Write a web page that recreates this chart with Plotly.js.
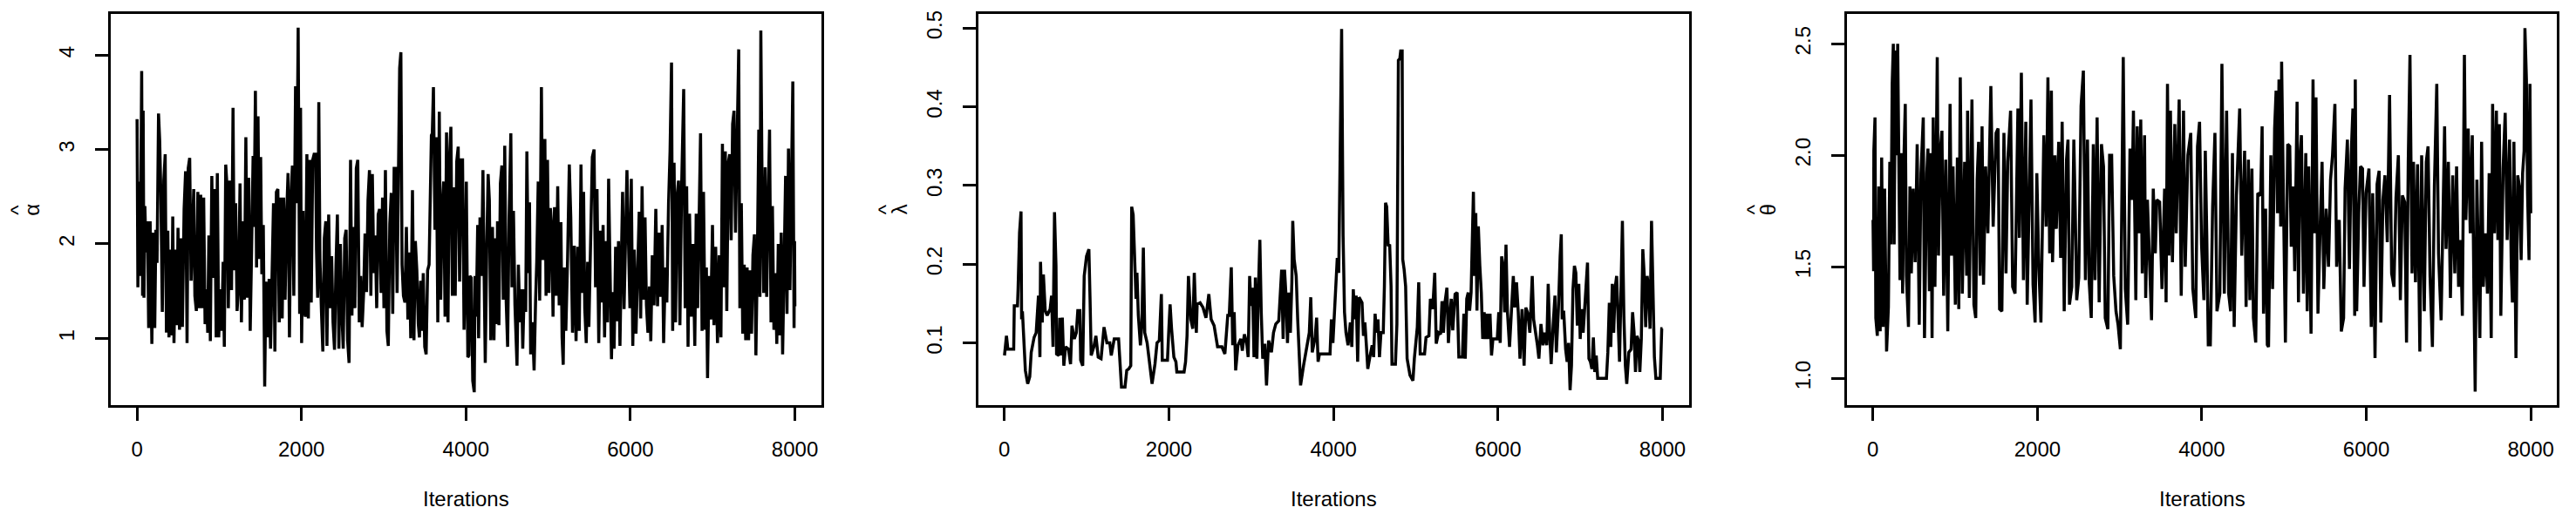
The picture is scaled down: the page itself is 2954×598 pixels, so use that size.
<!DOCTYPE html>
<html>
<head>
<meta charset="utf-8">
<script src="https://cdn.plot.ly/plotly-3.0.1.min.js"></script>
<style>
  html, body { margin: 0; padding: 0; background: #ffffff; }
  #chart { width: 2954px; height: 598px; }
</style>
</head>
<body>
<div id="chart"></div>
<script>
// MCMC trace of alpha-hat (iteration, value)
const alphaIter = [
  1,11,25,39,57,68,75,85,96,110,
  128,142,160,181,198,216,230,244,262,276,
  290,308,326,343,358,375,389,407,421,435,
  450,467,485,499,517,538,552,573,591,609,
  623,641,658,676,690,704,722,740,757,775,
  793,811,828,846,860,874,892,910,927,945,
  963,977,994,1012,1030,1048,1062,1079,1097,1111,
  1129,1150,1168,1182,1200,1217,1235,1253,1270,1288,
  1306,1324,1341,1359,1377,1394,1412,1423,1440,1454,
  1472,1486,1504,1518,1536,1553,1568,1589,1607,1624,
  1642,1660,1677,1695,1713,1730,1748,1766,1783,1801,
  1819,1837,1854,1872,1890,1907,1928,1943,1960,1978,
  1989,2002,2020,2034,2048,2066,2084,2101,2119,2137,
  2154,2172,2183,2197,2211,2225,2243,2260,2278,2296,
  2310,2331,2349,2367,2384,2402,2420,2437,2455,2473,
  2490,2508,2526,2543,2561,2579,2597,2614,2632,2650,
  2667,2685,2703,2720,2738,2756,2773,2791,2809,2827,
  2844,2862,2880,2897,2915,2933,2950,2968,2986,3003,
  3021,3039,3056,3074,3092,3110,3127,3145,3163,3180,
  3194,3209,3223,3240,3258,3276,3294,3311,3329,3350,
  3368,3385,3403,3421,3435,3449,3467,3481,3499,3516,
  3534,3552,3569,3580,3591,3605,3623,3640,3658,3676,
  3693,3711,3729,3746,3764,3782,3799,3817,3835,3853,
  3870,3888,3906,3923,3941,3959,3977,3994,4005,4023,
  4037,4047,4065,4083,4101,4111,4125,4143,4154,4171,
  4189,4207,4221,4235,4253,4270,4285,4302,4323,4341,
  4359,4373,4384,4401,4419,4437,4454,4472,4490,4507,
  4525,4546,4560,4578,4596,4621,4638,4656,4677,4691,
  4709,4727,4741,4759,4773,4787,4808,4829,4847,4861,
  4879,4897,4918,4935,4960,4974,4992,5010,5027,5045,
  5059,5077,5098,5116,5134,5155,5169,5183,5197,5215,
  5236,5257,5275,5296,5318,5339,5360,5378,5399,5417,
  5431,5445,5463,5480,5495,5516,5537,5558,5576,5594,
  5615,5636,5650,5668,5686,5703,5721,5735,5753,5770,
  5785,5802,5820,5838,5855,5873,5887,5905,5923,5940,
  5958,5994,6011,6029,6047,6068,6089,6107,6125,6142,
  6160,6178,6195,6213,6231,6248,6266,6287,6309,6330,
  6351,6369,6386,6404,6425,6443,6464,6482,6500,6514,
  6531,6549,6567,6585,6602,6623,6648,6666,6684,6701,
  6719,6740,6761,6783,6800,6818,6836,6853,6871,6889,
  6907,6924,6938,6956,6977,6998,7016,7037,7059,7080,
  7101,7119,7137,7154,7172,7190,7207,7225,7243,7260,
  7278,7299,7317,7331,7349,7366,7384,7402,7419,7437,
  7455,7473,7490,7508,7526,7543,7561,7575,7586,7603,
  7621,7639,7657,7674,7692,7710,7727,7745,7763,7780,
  7798,7816,7834,7851,7869,7887,7904,7922,7940,7957,
  7975,7990,7996,8000
];
const alphaVals = [
  3.32,1.54,2.66,1.66,3.83,1.45,3.41,1.43,2.4,1.91,
  2.24,1.11,2.24,0.94,2.12,1.11,2.15,1.8,3.38,3.1,
  2.55,1.28,2.67,2.95,1.06,2.14,1.01,1.94,1.03,2.29,
  0.95,1.94,1.14,2.17,1.09,2.06,1.12,2.37,2.77,0.95,
  2.8,2.91,1.61,2.28,2.58,1.45,1.29,2.55,1.32,2.52,
  1.32,2.49,1.15,1.52,1.06,2.09,0.97,2.72,1.64,2.58,
  1.01,2.75,1.01,1.52,1.08,1.81,0.91,2.84,2.58,1.32,
  2.67,1.51,3.44,1.72,2.43,1.29,1.54,2.64,1.17,2.24,
  1.41,3.13,1.43,2.7,1.08,1.94,2.93,2.18,3.62,1.75,
  3.35,1.84,2.92,1.68,2.2,0.49,1.6,1.01,1.63,0.89,
  1.81,2.43,0.86,2.55,2.58,1.17,2.49,1.21,2.49,1.41,
  2.28,2.75,1.01,2.49,2.83,1.45,3.67,2.43,4.29,1.26,
  3.44,0.95,2.35,1.29,1.23,2.95,1.21,2.89,1.38,2.89,
  2.95,2.95,1.94,1.43,3.5,1.84,1.29,0.86,2.06,2.24,
  0.92,2.31,1.32,1.87,1.17,0.88,1.78,2.31,0.89,2.0,
  1.29,0.89,2.06,2.15,0.98,0.74,2.89,1.24,2.18,1.32,
  2.8,2.89,1.17,1.66,1.12,1.48,2.11,1.49,2.46,2.78,
  1.45,2.74,1.69,2.09,1.32,2.31,2.37,1.48,2.49,1.32,
  2.78,1.08,0.92,2.21,2.54,1.26,2.8,2.8,1.48,3.04,
  3.86,4.03,1.78,1.45,1.38,2.18,1.2,1.91,1.0,2.57,
  0.98,2.03,1.72,1.15,1.01,1.61,1.08,1.69,0.91,0.83,
  1.72,1.78,2.8,3.15,3.17,3.66,2.15,3.13,1.17,3.4,
  1.41,2.37,2.66,1.23,3.18,1.17,2.89,3.24,1.45,2.6,
  1.45,2.87,3.03,1.6,2.89,2.89,1.09,1.75,2.66,0.8,
  0.82,1.66,1.64,0.55,0.43,1.66,1.23,2.2,1.0,2.28,
  1.66,2.78,1.69,0.74,1.95,2.74,2.46,0.98,2.18,0.98,
  2.06,1.15,2.24,1.14,2.64,2.83,1.41,3.04,1.38,0.91,
  2.28,3.17,1.54,2.35,1.35,0.71,1.78,1.17,1.52,0.89,
  1.52,1.28,2.98,1.69,2.44,0.83,1.17,0.66,1.4,1.81,
  2.66,1.4,3.66,1.83,3.11,1.45,2.89,1.48,2.38,2.15,
  1.23,2.39,1.45,2.61,1.35,2.23,1.01,0.72,1.75,1.08,
  1.84,2.84,2.28,1.06,1.98,0.97,1.97,1.08,2.84,1.48,
  2.55,1.32,0.95,1.81,1.12,2.15,2.92,3.0,1.54,2.58,
  0.95,2.14,1.38,2.2,1.01,2.03,1.17,2.69,1.57,0.78,
  1.49,0.89,1.97,1.18,2.03,0.92,1.68,2.55,1.31,2.18,
  2.78,1.32,2.69,0.92,1.94,1.05,1.88,2.34,1.21,2.61,
  1.41,2.28,1.35,1.06,1.55,0.97,1.88,1.35,2.37,1.34,
  2.12,1.44,2.2,0.95,1.75,1.38,2.43,2.98,3.92,1.08,
  2.86,1.17,2.5,2.67,1.14,2.61,3.64,1.32,2.61,0.91,
  2.32,1.23,2.0,0.92,2.32,1.32,2.3,3.17,1.08,2.55,
  1.09,1.75,0.58,1.66,1.2,2.2,1.14,1.97,0.95,1.88,
  1.01,3.06,1.54,2.98,1.29,2.86,2.95,2.04,3.27,3.41,
  2.12,3.14,4.06,1.32,2.43,1.05,1.78,0.98,1.75,0.98,
  1.72,1.05,1.88,2.1,0.82,1.81,3.21,1.44,4.26,2.43,
  1.48,2.81,1.44,2.37,3.21,1.17,2.4,1.09,1.69,0.94,
  2.0,1.03,2.12,0.83,1.72,2.72,1.26,3.01,1.51,2.74,
  3.72,1.11,2.03,1.34
];

// MCMC trace of lambda-hat
const lambdaIter = [
  1,7,25,42,113,120,159,166,184,202,
  209,219,237,255,283,308,326,361,386,414,
  432,439,460,474,496,520,556,573,591,609,
  627,634,662,673,690,704,722,743,779,804,
  821,850,874,892,917,927,952,970,998,1027,
  1041,1055,1087,1112,1140,1175,1211,1246,1281,1299,
  1335,1388,1423,1466,1487,1512,1536,1547,1565,1582,
  1600,1611,1628,1653,1671,1689,1706,1735,1759,1795,
  1830,1855,1883,1908,1919,1982,2000,2014,2032,2060,
  2085,2096,2184,2202,2220,2237,2266,2290,2308,2333,
  2343,2379,2414,2450,2485,2513,2549,2591,2644,2680,
  2715,2733,2758,2775,2793,2811,2839,2874,2892,2917,
  2945,2963,2981,2998,3016,3034,3051,3069,3087,3105,
  3122,3140,3165,3186,3211,3246,3271,3299,3335,3370,
  3388,3405,3423,3441,3459,3476,3494,3505,3522,3547,
  3565,3582,3600,3636,3671,3706,3724,3742,3777,3795,
  3813,3830,3958,3975,3993,4011,4028,4046,4064,4081,
  4099,4117,4134,4152,4177,4205,4223,4241,4258,4276,
  4294,4311,4347,4364,4382,4400,4417,4442,4470,4488,
  4506,4523,4541,4559,4577,4605,4619,4633,4647,4665,
  4683,4700,4711,4753,4771,4789,4806,4817,4835,4842,
  4859,4877,4895,4930,4966,4983,5019,5036,5054,5107,
  5125,5160,5178,5206,5231,5249,5277,5302,5319,5337,
  5355,5379,5397,5418,5432,5450,5478,5503,5524,5567,
  5585,5602,5620,5638,5655,5673,5691,5701,5715,5730,
  5744,5761,5779,5797,5814,5832,5850,5868,5885,5903,
  5921,5938,5991,6009,6027,6044,6062,6080,6097,6115,
  6140,6161,6186,6204,6225,6246,6267,6292,6317,6338,
  6363,6387,6416,6433,6458,6479,6497,6522,6547,6568,
  6593,6610,6628,6646,6670,6692,6709,6734,6755,6769,
  6780,6798,6822,6840,6858,6876,6893,6911,6929,6946,
  6964,6982,6999,7017,7035,7052,7070,7088,7105,7123,
  7141,7159,7176,7194,7212,7318,7335,7353,7371,7389,
  7406,7424,7442,7459,7477,7495,7512,7530,7548,7565,
  7590,7618,7636,7654,7671,7689,7707,7724,7742,7760,
  7778,7795,7813,7830,7848,7866,7883,7901,7919,7972,
  7990,8000
];
const lambdaVals = [
  0.084,0.09,0.109,0.092,0.092,0.147,0.147,0.168,0.24,0.267,
  0.13,0.14,0.097,0.065,0.048,0.057,0.088,0.107,0.113,0.16,
  0.082,0.203,0.126,0.187,0.141,0.135,0.143,0.16,0.095,0.266,
  0.198,0.086,0.084,0.132,0.084,0.132,0.071,0.095,0.092,0.073,
  0.122,0.105,0.113,0.141,0.141,0.078,0.071,0.185,0.21,0.219,
  0.156,0.084,0.095,0.109,0.082,0.08,0.12,0.1,0.1,0.084,
  0.105,0.105,0.044,0.044,0.065,0.067,0.071,0.273,0.263,0.21,
  0.156,0.189,0.135,0.097,0.124,0.221,0.113,0.1,0.078,0.048,
  0.073,0.1,0.103,0.162,0.078,0.078,0.12,0.149,0.118,0.082,
  0.076,0.063,0.063,0.076,0.109,0.185,0.13,0.118,0.189,0.113,
  0.149,0.151,0.145,0.132,0.162,0.13,0.122,0.095,0.095,0.086,
  0.135,0.135,0.196,0.097,0.139,0.065,0.097,0.105,0.09,0.111,
  0.1,0.082,0.185,0.147,0.17,0.082,0.183,0.08,0.164,0.231,
  0.139,0.08,0.099,0.046,0.103,0.088,0.113,0.124,0.128,0.193,
  0.105,0.193,0.16,0.1,0.164,0.113,0.177,0.255,0.206,0.185,
  0.13,0.08,0.046,0.071,0.09,0.113,0.158,0.088,0.107,0.132,
  0.076,0.086,0.086,0.13,0.1,0.139,0.16,0.208,0.189,0.318,
  0.499,0.236,0.139,0.113,0.097,0.126,0.095,0.168,0.13,0.16,
  0.076,0.158,0.151,0.109,0.126,0.097,0.067,0.082,0.097,0.082,
  0.137,0.113,0.13,0.082,0.113,0.113,0.172,0.278,0.273,0.223,
  0.225,0.172,0.073,0.073,0.124,0.459,0.461,0.471,0.471,0.206,
  0.193,0.172,0.08,0.059,0.052,0.08,0.12,0.177,0.086,0.086,
  0.107,0.109,0.156,0.143,0.189,0.099,0.113,0.111,0.153,0.113,
  0.151,0.17,0.1,0.139,0.156,0.116,0.162,0.164,0.082,0.082,
  0.137,0.08,0.156,0.164,0.141,0.164,0.265,0.292,0.185,0.265,
  0.141,0.248,0.198,0.164,0.105,0.139,0.105,0.137,0.105,0.137,
  0.084,0.105,0.105,0.139,0.1,0.21,0.198,0.139,0.225,0.139,
  0.095,0.145,0.185,0.145,0.177,0.139,0.08,0.143,0.071,0.145,
  0.137,0.113,0.185,0.13,0.113,0.097,0.08,0.124,0.097,0.113,
  0.097,0.175,0.113,0.073,0.122,0.16,0.088,0.143,0.21,0.238,
  0.13,0.141,0.092,0.076,0.1,0.04,0.071,0.168,0.198,0.189,
  0.122,0.175,0.105,0.143,0.113,0.143,0.181,0.202,0.08,0.076,
  0.067,0.107,0.063,0.084,0.055,0.055,0.088,0.151,0.095,0.175,
  0.113,0.17,0.185,0.137,0.076,0.168,0.255,0.135,0.071,0.048,
  0.088,0.092,0.139,0.113,0.063,0.109,0.103,0.063,0.105,0.219,
  0.185,0.12,0.185,0.17,0.118,0.255,0.172,0.082,0.055,0.055,
  0.118,0.118
];

// MCMC trace of theta-hat
const thetaIter = [
  1,8,11,25,35,53,71,88,106,124,
  142,166,188,205,219,234,248,258,273,290,
  301,319,329,347,361,379,393,407,432,450,
  467,489,513,538,563,584,612,627,655,669,
  687,704,719,733,754,782,797,821,839,860,
  885,910,938,956,974,1002,1027,1044,1062,1087,
  1115,1140,1151,1172,1204,1228,1250,1267,1285,1303,
  1327,1345,1370,1398,1434,1462,1497,1522,1540,1568,
  1593,1618,1639,1674,1699,1728,1763,1781,1805,1830,
  1859,1876,1901,1922,1947,1972,1993,2018,2043,2078,
  2106,2128,2149,2170,2184,2213,2230,2259,2283,2301,
  2326,2354,2372,2390,2418,2443,2460,2478,2503,2531,
  2559,2584,2609,2630,2655,2680,2701,2726,2751,2779,
  2804,2825,2857,2878,2903,2928,2956,2981,3009,3027,
  3044,3069,3098,3126,3151,3168,3197,3214,3239,3257,
  3275,3303,3317,3338,3363,3388,3409,3434,3452,3487,
  3515,3547,3565,3582,3600,3618,3642,3671,3688,3724,
  3749,3777,3798,3830,3865,3890,3926,3947,3972,3996,
  4025,4042,4060,4078,4103,4131,4159,4184,4219,4244,
  4273,4301,4326,4350,4372,4393,4421,4443,4460,4485,
  4520,4538,4566,4584,4609,4627,4655,4680,4715,4733,
  4750,4775,4796,4811,4839,4860,4885,4903,4920,4938,
  4959,4970,4988,5016,5044,5069,5087,5112,5129,5158,
  5175,5193,5211,5235,5264,5281,5299,5328,5352,5370,
  5388,5412,5441,5462,5483,5512,5540,5565,5589,5618,
  5639,5671,5696,5724,5742,5770,5795,5816,5837,5859,
  5866,5883,5908,5929,5954,5972,5997,6032,6060,6078,
  6106,6131,6156,6177,6202,6227,6255,6283,6308,6336,
  6361,6390,6414,6439,6467,6489,6510,6531,6556,6574,
  6598,6623,6651,6673,6705,6729,6751,6775,6804,6828,
  6857,6878,6910,6935,6952,6970,6998,7023,7051,7076,
  7098,7122,7147,7168,7193,7211,7239,7264,7289,7310,
  7324,7345,7363,7381,7402,7423,7448,7473,7494,7519,
  7536,7558,7582,7600,7618,7636,7664,7689,7713,7742,
  7763,7777,7795,7820,7841,7862,7883,7901,7919,7929,
  7947,7961,7979,7990,8000
];
const thetaVals = [
  1.71,1.48,2.02,2.17,1.27,1.19,1.86,1.21,1.99,1.23,
  1.85,1.12,1.32,1.97,1.6,2.32,2.5,1.6,2.47,2.0,
  2.5,1.53,1.44,2.01,1.38,2.02,2.23,1.46,1.23,1.86,
  1.47,1.85,1.52,2.05,1.24,1.92,2.17,1.18,1.92,2.03,
  1.39,2.01,1.18,2.17,1.41,2.44,1.55,2.03,2.11,1.37,
  1.98,1.21,2.23,1.55,1.95,1.33,1.99,1.31,2.35,1.38,
  1.97,1.46,2.2,1.36,2.25,1.33,1.27,1.89,2.06,1.46,
  2.13,1.42,1.95,1.65,2.31,1.68,2.1,2.12,1.31,1.3,
  2.1,1.47,1.97,2.2,1.41,1.38,2.21,1.63,2.37,1.44,
  2.15,1.33,1.95,2.25,1.42,1.25,1.92,1.49,1.25,2.09,
  1.68,2.35,1.56,2.29,1.52,2.0,1.67,2.06,1.54,2.15,
  1.3,1.98,2.07,1.33,1.41,2.07,1.76,1.35,1.45,2.22,
  2.38,1.44,2.07,1.43,1.27,2.05,1.44,2.17,1.34,2.05,
  1.95,1.27,1.22,2.0,2.0,1.46,1.3,1.24,1.13,1.86,
  2.44,1.4,1.24,2.03,1.8,2.2,1.35,2.13,1.65,2.16,
  1.47,2.09,1.36,1.8,1.56,1.26,1.85,1.56,1.8,1.79,
  1.4,1.85,1.34,2.32,1.55,2.2,1.52,2.14,1.65,2.25,
  1.37,2.2,1.5,2.0,2.1,1.4,1.27,2.04,2.15,1.6,
  1.35,2.02,1.64,1.15,1.15,1.77,2.1,1.3,1.38,2.41,
  1.38,2.2,1.38,1.3,2.01,1.23,1.82,2.07,2.21,1.55,
  2.02,1.32,1.98,1.35,1.94,1.27,1.16,1.83,1.82,2.13,
  1.29,1.76,1.15,1.14,2.0,1.4,2.12,2.29,1.74,2.34,
  1.68,2.42,1.82,1.16,2.05,2.04,1.59,1.86,1.48,2.24,
  1.34,1.98,2.09,1.38,2.01,1.3,1.95,1.2,2.34,1.65,
  2.26,1.29,1.71,1.97,1.4,1.76,1.5,1.89,2.0,2.23,
  1.5,1.71,1.21,1.27,1.85,2.07,1.49,2.0,2.21,1.28,
  2.34,1.3,1.74,1.95,1.94,1.41,1.83,1.94,1.23,1.83,
  1.09,1.87,1.93,1.25,1.8,1.91,1.61,2.27,1.47,1.41,
  1.81,2.0,1.35,1.82,1.79,1.16,1.97,2.45,1.47,1.97,
  1.43,1.96,1.12,2.0,1.3,1.97,2.04,1.46,1.14,1.86,
  2.32,1.56,1.26,1.91,2.13,1.58,1.97,1.36,1.91,1.47,
  1.95,1.41,1.62,1.28,2.45,1.71,2.12,1.65,2.09,1.35,
  0.94,1.89,1.46,1.18,2.06,1.41,1.65,1.38,1.92,1.18,
  2.23,1.65,2.2,1.62,2.14,1.28,1.94,2.19,1.62,2.07,
  1.5,1.34,2.06,1.09,1.91,1.86,1.53,1.92,2.02,2.57,
  2.34,1.83,1.53,2.32,1.74
];

// axis ticks
const iterTicks = [0, 2000, 4000, 6000, 8000];
const alphaTicks = [1, 2, 3, 4];
const lambdaTicks = [0.1, 0.2, 0.3, 0.4, 0.5];
const lambdaTickText = ["0.1", "0.2", "0.3", "0.4", "0.5"];
const thetaTicks = [1.0, 1.5, 2.0, 2.5];
const thetaTickText = ["1.0", "1.5", "2.0", "2.5"];
const xLabel = "Iterations";

const W = 2954, H = 598;
const FONT = "Liberation Sans, Arial, Helvetica, sans-serif";

// plot boxes in pixels, left/right edges
const panels = [
  { iter: alphaIter, vals: alphaVals, left: 127, right: 941.7, yrange: [0.29, 4.435],
    tickvals: alphaTicks, ticktext: alphaTicks.map(String), sym: "α" },
  { iter: lambdaIter, vals: lambdaVals, left: 1121.7, right: 1936.7, yrange: [0.0206, 0.518],
    tickvals: lambdaTicks, ticktext: lambdaTickText, sym: "λ" },
  { iter: thetaIter, vals: thetaVals, left: 2117.7, right: 2932.3, yrange: [0.878, 2.634],
    tickvals: thetaTicks, ticktext: thetaTickText, sym: "θ" }
];

const boxTop = 16, boxBottom = 465.3;
const yDomain = [(H - boxBottom) / H, (H - boxTop) / H];
const px = (x) => x / W;
const py = (y) => (H - y) / H;

const traces = [];
const layout = {
  width: W,
  height: H,
  margin: { l: 0, r: 0, t: 0, b: 0 },
  paper_bgcolor: "#ffffff",
  plot_bgcolor: "#ffffff",
  showlegend: false,
  font: { family: FONT, size: 24, color: "#000000" },
  annotations: []
};

panels.forEach((p, i) => {
  const s = i === 0 ? "" : String(i + 1);
  traces.push({
    x: p.iter,
    y: p.vals,
    xaxis: "x" + s,
    yaxis: "y" + s,
    type: "scatter",
    mode: "lines",
    line: { color: "#000000", width: 3.5 },
    hoverinfo: "skip"
  });

  const common = {
    showline: true,
    mirror: true,
    linecolor: "#000000",
    linewidth: 3,
    ticks: "outside",
    ticklen: 15,
    tickwidth: 3,
    tickcolor: "#000000",
    showgrid: false,
    zeroline: false,
    tickfont: { family: FONT, size: 24, color: "#000000" },
    fixedrange: true
  };

  layout["xaxis" + s] = Object.assign({}, common, {
    domain: [px(p.left), px(p.right)],
    range: [-319, 8320],
    anchor: "y" + s,
    tickmode: "array",
    tickvals: iterTicks,
    ticktext: iterTicks.map(String),
    ticklabelstandoff: 12
  });

  layout["yaxis" + s] = Object.assign({}, common, {
    domain: yDomain,
    range: p.yrange,
    anchor: "x" + s,
    tickmode: "array",
    tickvals: p.tickvals,
    ticktext: p.ticktext,
    tickangle: -90,
    ticklabelstandoff: 14
  });

  const midY = (boxTop + boxBottom) / 2;
  // hatted symbol as y title
  layout.annotations.push({
    xref: "paper", yref: "paper",
    x: px(p.left - 90), y: py(midY),
    text: p.sym, showarrow: false, textangle: -90,
    xanchor: "center", yanchor: "middle",
    font: { family: FONT, size: 24, color: "#000000" }
  });
  layout.annotations.push({
    xref: "paper", yref: "paper",
    x: px(p.left - 106), y: py(midY),
    text: "^", showarrow: false, textangle: -90,
    xanchor: "center", yanchor: "middle",
    font: { family: FONT, size: 24, color: "#000000" }
  });
  // x title
  layout.annotations.push({
    xref: "paper", yref: "paper",
    x: px((p.left + p.right) / 2), y: py(572),
    text: xLabel, showarrow: false,
    xanchor: "center", yanchor: "middle",
    font: { family: FONT, size: 24, color: "#000000" }
  });
});

Plotly.newPlot("chart", traces, layout, { staticPlot: true, displayModeBar: false });
</script>
</body>
</html>
